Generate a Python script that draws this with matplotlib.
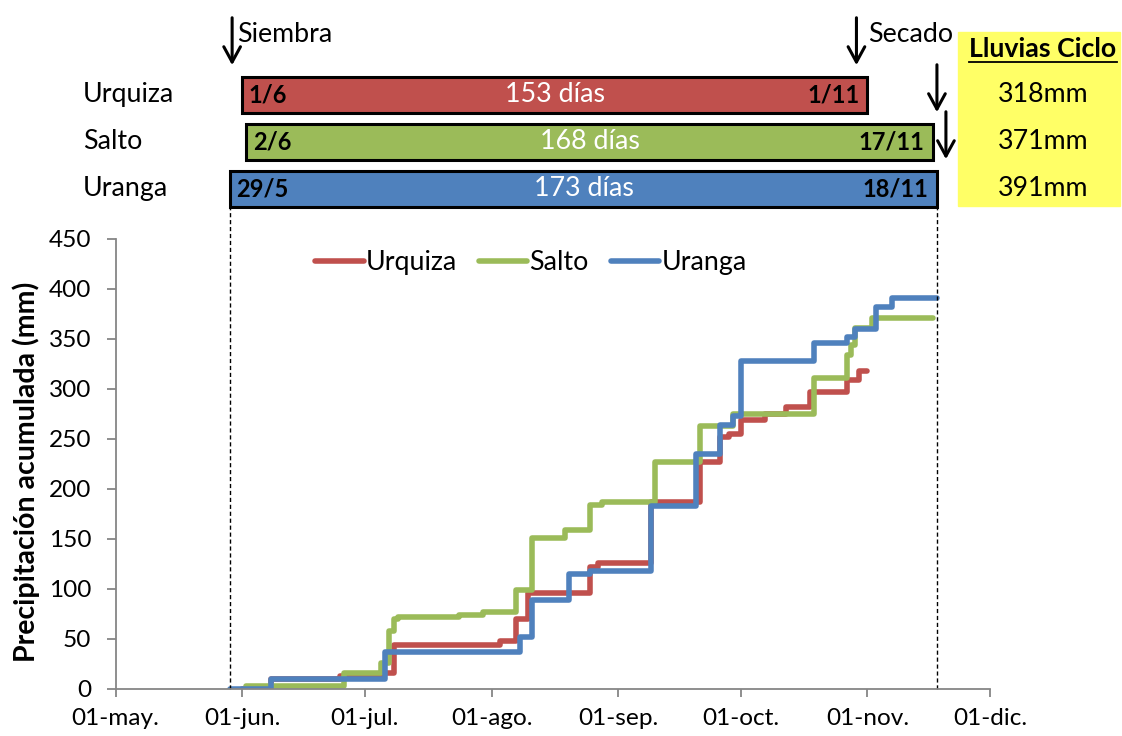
import numpy as np
import matplotlib.pyplot as plt
import matplotlib.dates as mdates
from matplotlib.lines import Line2D
from matplotlib.patches import Rectangle
from matplotlib.transforms import blended_transform_factory

plt.rcParams['font.family'] = ['Lato', 'DejaVu Sans']

ANIO = '2014-'

# precipitacion acumulada (mm), fecha de cada escalon (mes-dia)
fechas_urquiza = ['06-01', '06-08', '06-25', '07-05', '07-08', '08-03', '08-07', '08-10',
                  '08-25', '08-27', '09-09', '09-21', '09-26', '09-28', '10-01', '10-07',
                  '10-12', '10-18', '10-27', '10-30', '11-01']
lluvia_urquiza = [0, 10, 13, 16, 44, 48, 70, 96, 122, 126, 187, 227, 252, 255, 269, 275,
                  282, 297, 309, 318, 318]

fechas_salto = ['06-02', '06-26', '07-05', '07-07', '07-08', '07-09', '07-24', '07-30',
                '08-07', '08-11', '08-19', '08-25', '08-28', '09-10', '09-21', '09-29',
                '10-19', '10-27', '10-28', '10-29', '11-02', '11-17']
lluvia_salto = [3, 16, 26, 58, 70, 72, 74, 77, 99, 151, 159, 184, 187, 227, 263, 275,
                311, 334, 344, 361, 371, 371]

fechas_uranga = ['05-29', '06-08', '07-06', '08-08', '08-11', '08-20', '08-25', '09-09',
                 '09-20', '09-26', '09-29', '10-01', '10-19', '10-27', '10-29', '11-03',
                 '11-07', '11-18']
lluvia_uranga = [0, 10, 37, 52, 89, 115, 118, 183, 235, 264, 273, 328, 346, 352, 360, 382,
                 391, 391]

sitios = ['Urquiza', 'Salto', 'Uranga']
colores = ['#C0504D', '#9BBB59', '#4F81BD']
siembra = ['06-01', '06-02', '05-29']
secado = ['11-01', '11-17', '11-18']
dias_ciclo = [153, 168, 173]
lluvia_ciclo = [318, 371, 391]

meses = ['may', 'jun', 'jul', 'ago', 'sep', 'oct', 'nov', 'dic']

FS = 19.3  # textos generales


def num(f):
    return mdates.date2num(np.datetime64(ANIO + f))


def nums(lista):
    return np.array([num(f) for f in lista])


fig = plt.figure(figsize=(11.22, 7.36), dpi=100)
ax = fig.add_axes([0.1031, 0.0639, 0.7793, 0.6114])

series = [(fechas_urquiza, lluvia_urquiza), (fechas_salto, lluvia_salto),
          (fechas_uranga, lluvia_uranga)]
for nombre, (fe, ll), col in zip(sitios, series, colores):
    ax.plot(nums(fe), ll, drawstyle='steps-post', color=col, lw=4, label=nombre,
            solid_joinstyle='round', solid_capstyle='round')

# barras del ciclo arriba del grafico
fila_y = [594, 547, 500]
alto = 36
inicio = nums(siembra)
fin = nums(secado)
trans_fig = blended_transform_factory(fig.transFigure, ax.transData)
for i in range(3):
    ax.barh(fila_y[i], fin[i] - inicio[i], left=inicio[i], height=alto, color=colores[i],
            edgecolor='black', lw=2.2, clip_on=False)
    d_ini = siembra[i].split('-')
    d_fin = secado[i].split('-')
    ax.text(inicio[i] + 1.6, fila_y[i], '%d/%d' % (int(d_ini[1]), int(d_ini[0])),
            ha='left', va='center', fontsize=17, fontweight='bold')
    ax.text(fin[i] - 2, fila_y[i], '%d/%d' % (int(d_fin[1]), int(d_fin[0])),
            ha='right', va='center', fontsize=17, fontweight='bold')
    ax.text((inicio[i] + fin[i]) / 2, fila_y[i], '%d días' % dias_ciclo[i],
            ha='center', va='center', fontsize=FS, color='white')
    ax.text(83 / 1122, fila_y[i], sitios[i], transform=trans_fig,
            ha='left', va='center', fontsize=FS)
    ax.text(1043 / 1122, fila_y[i], '%dmm' % lluvia_ciclo[i], transform=trans_fig,
            ha='center', va='center', fontsize=FS, zorder=5)

# flechas siembra / secado
flecha = dict(arrowstyle='->,head_length=0.55,head_width=0.3', lw=2.2, color='black',
              mutation_scale=20)
x_siembra = inicio.min() + 0.5
ax.annotate('', xy=(x_siembra, fila_y[0] + alto / 2 + 9),
            xytext=(x_siembra, fila_y[0] + alto / 2 + 62),
            arrowprops=flecha, annotation_clip=False)
ax.text(x_siembra + 1.2, fila_y[0] + alto / 2 + 42, 'Siembra', fontsize=FS,
        ha='left', va='center')
desfase = [-2.7, 1.0, 2.2]
for i in range(3):
    x = fin[i] + desfase[i]
    ax.annotate('', xy=(x, fila_y[i] + alto / 2 + 9), xytext=(x, fila_y[i] + alto / 2 + 62),
                arrowprops=flecha, annotation_clip=False)
ax.text(fin[0] + desfase[0] + 2.8, fila_y[0] + alto / 2 + 42, 'Secado', fontsize=FS,
        ha='left', va='center')

# lineas punteadas del ciclo mas largo
for x in [inicio[2], fin[2]]:
    ax.plot([x, x], [0, fila_y[2] - alto / 2], ls=(0, (3, 2)), color='black', lw=1,
            clip_on=False)

# cuadro amarillo
fig.add_artist(Rectangle((958 / 1122, 1 - 206 / 736), 162 / 1122, 174 / 736,
                         transform=fig.transFigure, color='#FFFF66', zorder=0))
titulo = fig.text(1043 / 1122, 1 - 49 / 736, 'Lluvias Ciclo', ha='center', va='center',
                  fontsize=FS, fontweight='bold')

ax.set_xlim(num('05-01'), num('12-01'))
ax.set_ylim(0, 450)
ax.set_xticks(nums(['%02d-01' % m for m in range(5, 13)]))
ax.set_xticklabels(['01-%s.' % m for m in meses])
ax.set_yticks(range(0, 451, 50))
ax.tick_params(axis='x', length=6, width=1.3, color='#868686', labelsize=17.6, pad=8)
ax.tick_params(axis='y', length=6.5, width=1.3, color='#868686', labelsize=17.6, pad=11)
for s in ['top', 'right']:
    ax.spines[s].set_visible(False)
for s in ['left', 'bottom']:
    ax.spines[s].set_color('#868686')
    ax.spines[s].set_linewidth(1.3)
ax.set_ylabel('Precipitación acumulada (mm)', fontsize=20.5, fontweight='bold')
ax.yaxis.set_label_coords(-0.0866, 0.482)

ax.legend(loc='center', bbox_to_anchor=(0.475, 0.947), ncol=3, frameon=False,
          fontsize=FS, handlelength=1.8, handletextpad=0.08, columnspacing=0.82)

# subrayado del titulo
fig.canvas.draw()
bb = titulo.get_window_extent()
W, H = fig.canvas.get_width_height()
yl = (bb.y0 - 1) / H
fig.add_artist(Line2D([bb.x0 / W, bb.x1 / W], [yl, yl], transform=fig.transFigure,
                      color='black', lw=1.3))

fig.savefig('out.png', dpi=100)
